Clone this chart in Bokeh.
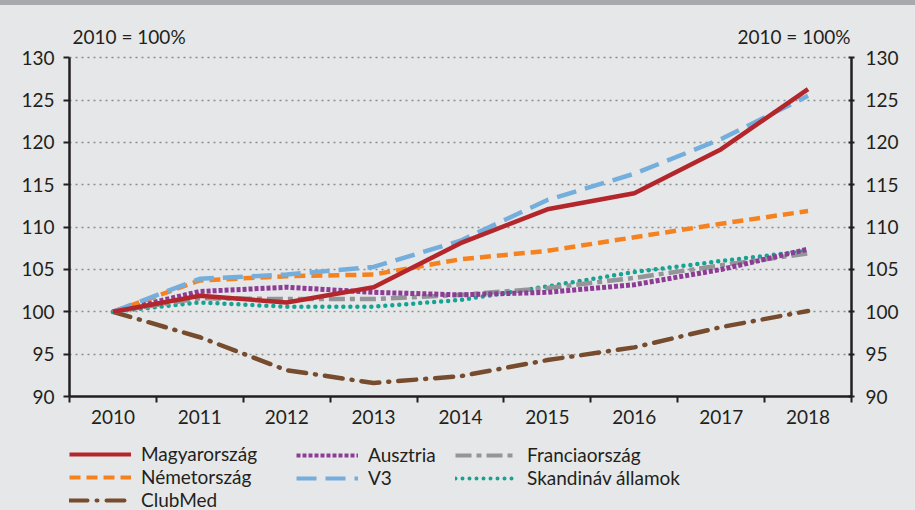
from bokeh.plotting import figure
from bokeh.layouts import column
from bokeh.models import (ColumnDataSource, FixedTicker, LinearAxis, Legend, LegendItem,
                          Range1d, Label)
from bokeh.embed import file_html
from bokeh.resources import INLINE

years = ["2010", "2011", "2012", "2013", "2014", "2015", "2016", "2017", "2018"]
magyarorszag = [100, 101.9, 101.1, 102.9, 108.1, 112.1, 114.0, 119.2, 126.3]
nemetorszag = [100, 103.7, 104.2, 104.4, 106.2, 107.2, 108.8, 110.4, 111.9]
v3 = [100, 103.9, 104.4, 105.3, 108.4, 113.2, 116.3, 120.4, 125.5]
ausztria = [100, 102.4, 102.9, 102.3, 102.0, 102.3, 103.2, 105.0, 107.4]
franciaorszag = [100, 101.6, 101.5, 101.5, 102.0, 102.8, 104.0, 105.5, 106.9]
skandinav = [100, 101.1, 100.6, 100.6, 101.4, 103.0, 104.7, 106.0, 107.2]
clubmed = [100, 97.0, 93.1, 91.6, 92.4, 94.3, 95.8, 98.2, 100.1]
y_ticks = [90, 95, 100, 105, 110, 115, 120, 125, 130]
unit_label = "2010 = 100%"

FONT = "Lato"
FS = "19px"
TXT = "#231f20"
BG = "#e6e7e8"

xs = list(range(len(years)))
src = ColumnDataSource(dict(x=xs, magyar=magyarorszag, nemet=nemetorszag, v3=v3,
                            ausztria=ausztria, francia=franciaorszag,
                            skand=skandinav, clubmed=clubmed))

Y_MIN, Y_MAX = 90, 130
Y_TOP = 134.16  # extra headroom inside the frame for the unit labels

p = figure(width=915, height=429, output_backend="svg", toolbar_location=None,
           x_range=Range1d(-0.5, len(years) - 0.5), y_range=Range1d(Y_MIN, Y_TOP),
           min_border_left=69, min_border_right=64, min_border_top=17,
           min_border_bottom=38, background_fill_color=BG, border_fill_color=BG,
           outline_line_color=None, y_axis_location=None)

# x axis
xax = p.xaxis[0]
xax.ticker = FixedTicker(ticks=xs, minor_ticks=[i - 0.5 for i in range(len(years) + 1)])
xax.major_label_overrides = {i: y for i, y in enumerate(years)}
xax.major_tick_line_color = None
xax.major_tick_out = 0
xax.minor_tick_line_color = TXT
xax.minor_tick_line_width = 2
xax.minor_tick_out = 6
xax.minor_tick_in = 0
xax.axis_line_color = TXT
xax.axis_line_width = 2.5
xax.major_label_text_font = FONT
xax.major_label_text_font_size = FS
xax.major_label_text_color = TXT
xax.major_label_standoff = 7

for side in ("left", "right"):
    ax = LinearAxis(ticker=FixedTicker(ticks=y_ticks), bounds=(Y_MIN, Y_MAX))
    ax.axis_line_color = TXT
    ax.axis_line_width = 2.5
    ax.major_tick_line_color = TXT
    ax.major_tick_line_width = 2
    ax.minor_tick_line_color = None
    ax.major_label_text_font = FONT
    ax.major_label_text_font_size = FS
    ax.major_label_text_color = TXT
    if side == "left":
        ax.major_tick_out = 6
        ax.major_tick_in = 0
        ax.major_label_standoff = 9
    else:
        ax.major_tick_out = 3
        ax.major_tick_in = 3
        ax.major_label_standoff = 11
    p.add_layout(ax, side)

p.xgrid.grid_line_color = None
p.ygrid.ticker = FixedTicker(ticks=y_ticks[1:])
p.ygrid.grid_line_color = "#8a8c8e"
p.ygrid.grid_line_width = 1.5
p.ygrid.grid_line_dash = "2 4"

styles = [
    ("magyar", "Magyarország", "#b3262c", "solid", 4.5, "butt"),
    ("ausztria", "Ausztria", "#8d3c96", "4 2", 5, "butt"),
    ("francia", "Franciaország", "#939598", "16 5 5 5", 4.5, "butt"),
    ("nemet", "Németország", "#f5821f", "11 6", 4.5, "butt"),
    ("v3", "V3", "#74aedc", "20 9", 4.5, "butt"),
    ("skand", "Skandináv államok", "#17a393", "0 7", 4.5, "round"),
    ("clubmed", "ClubMed", "#774b2d", "18 9 1 9", 4.5, "round"),
]
meta = {s[0]: s for s in styles}
draw_order = ["clubmed", "skand", "francia", "ausztria", "nemet", "v3", "magyar"]
for key in draw_order:
    _, label, color, dash, w, cap = meta[key]
    p.line("x", key, source=src, line_color=color, line_width=w,
           line_dash=dash, line_cap=cap)

for xpos, align in ((3, "left"), (781, "right")):
    p.add_layout(Label(x=xpos, y=132.5, x_units="screen", y_units="data",
                       text=unit_label, text_align=align, text_baseline="middle",
                       text_font=FONT, text_font_size=FS, text_color=TXT))

# legend strip below the chart (its frame lines up with the chart frame)
p2 = figure(width=915, height=76, output_backend="svg", toolbar_location=None,
            x_range=Range1d(-0.5, len(years) - 0.5), y_range=Range1d(Y_MIN, Y_MAX),
            min_border=0, background_fill_color=BG, border_fill_color=BG,
            outline_line_color=None, x_axis_location=None, y_axis_location=None)
p2.grid.visible = False
rend2 = {}
for key in draw_order:
    _, label, color, dash, w, cap = meta[key]
    rend2[key] = p2.line("x", key, source=src, line_color=color, line_width=4,
                         line_dash=dash, line_cap=cap, visible=False)

columns = [(0, -1, ["magyar", "nemet", "clubmed"]),
           (227, 21, ["ausztria", "v3"]),
           (386, 21, ["francia", "skand"])]
for vx, vy, keys in columns:
    items = [LegendItem(label=meta[k][1], renderers=[rend2[k]]) for k in keys]
    leg = Legend(items=items, location=(vx, vy), orientation="vertical",
                 glyph_width=62, glyph_height=22, label_height=22, spacing=0,
                 label_standoff=10, padding=0, margin=0,
                 background_fill_alpha=0, border_line_color=None,
                 label_text_font=FONT, label_text_font_size=FS,
                 label_text_color=TXT)
    p2.add_layout(leg)

layout = column(p, p2, spacing=0)

html = file_html(layout, INLINE)
html = html.replace("</head>", "<style>html{border-top:5px solid #a7a9ac !important;"
                    "background:%s;} body{background:%s;}</style></head>" % (BG, BG), 1)
open("out.html", "w").write(html)
